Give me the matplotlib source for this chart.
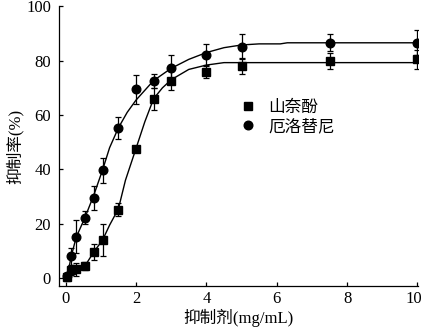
import matplotlib
matplotlib.use("Agg")
import matplotlib.pyplot as plt
import matplotlib.transforms as mtransforms

plt.rcParams['font.family'] = ['Liberation Serif', 'Noto Sans CJK SC']

# measured points
dose = [0.03, 0.15, 0.3, 0.55, 0.8, 1.05, 1.5, 2.0, 2.5, 3.0, 4.0, 5.0, 7.5, 10.0]
kaem_y = [0.3, 3.0, 3.2, 4.3, 9.6, 14.0, 25.2, 47.5, 66.0, 72.6, 76.0, 78.0, 80.0, 80.5]
kaem_err = [1.5, 2.0, 2.5, 1.5, 3.0, 6.0, 2.5, 0.0, 4.0, 3.5, 2.5, 3.0, 3.0, 3.5]
erlo_y = [0.8, 8.0, 15.2, 22.3, 29.4, 39.6, 55.2, 69.5, 72.5, 77.4, 82.0, 85.2, 86.7, 86.7]
erlo_err = [1.0, 3.0, 6.0, 2.5, 4.5, 4.5, 4.0, 5.3, 2.5, 4.7, 4.0, 4.5, 3.0, 4.5]

# fitted curves
kaem_fit_x = [0.05, 0.15, 0.3, 0.55, 0.8, 1.05, 1.25, 1.5, 1.7, 2.0, 2.25, 2.5,
              2.75, 3.0, 3.5, 4.0, 4.5, 10.0]
kaem_fit_y = [0.5, 2.5, 3.3, 4.5, 9.6, 14.0, 19.5, 25.5, 36.0, 47.7, 57.5, 66.0,
              70.0, 73.0, 76.8, 78.4, 79.3, 79.3]
erlo_fit_x = [0.05, 0.15, 0.3, 0.55, 0.8, 1.05, 1.25, 1.5, 1.75, 2.0, 2.5, 3.0,
              3.5, 4.0, 4.5, 5.0, 5.5, 6.1, 6.3, 10.0]
erlo_fit_y = [0.5, 7.5, 15.0, 22.3, 30.5, 39.8, 48.0, 55.3, 61.0, 65.5, 72.7, 77.2,
              80.5, 83.0, 84.8, 85.8, 86.2, 86.2, 86.6, 86.6]

fig = plt.figure(figsize=(4.25, 3.29), dpi=100)
ax = fig.add_axes([0.1395, 0.1316, 0.8445, 0.849])

ax.plot(kaem_fit_x, kaem_fit_y, color='black', lw=1)
ax.plot(erlo_fit_x, erlo_fit_y, color='black', lw=1)

ax.errorbar(dose, kaem_y, yerr=kaem_err, fmt='s', color='black', ms=5.2,
            ecolor='black', elinewidth=0.9, capsize=2.5, capthick=0.9,
            label='山奈酚')
ax.errorbar(dose, erlo_y, yerr=erlo_err, fmt='o', color='black', ms=6.2,
            ecolor='black', elinewidth=0.9, capsize=2.5, capthick=0.9,
            label='厄洛替尼')

ax.set_xlim(-0.18, 10.02)
ax.set_ylim(-2.8, 100)
ax.set_xticks([0, 2, 4, 6, 8, 10])
ax.set_yticks([0, 20, 40, 60, 80, 100])
ax.tick_params(direction='in', labelsize=12, length=3, width=0.9)
ax.tick_params(axis='y', pad=6)
for s in ['top', 'right']:
    ax.spines[s].set_visible(False)
for s in ['left', 'bottom']:
    ax.spines[s].set_linewidth(0.9)

# nudge the last x tick label so it stays inside the canvas
last = ax.get_xticklabels()[-1]
last.set_transform(last.get_transform() +
                   mtransforms.ScaledTranslation(-4 / 100, 0, fig.dpi_scale_trans))

ax.set_xlabel('抑制剂(mg/mL)', fontsize=12, labelpad=2)
ax.set_ylabel('抑制率(%)', fontsize=12, labelpad=2)

handles, labels = ax.get_legend_handles_labels()
ax.legend([h[0] for h in handles], labels, loc='upper left',
          bbox_to_anchor=(0.46, 0.72), frameon=False, fontsize=12,
          handletextpad=0.75, handlelength=1.0, labelspacing=0.2)

fig.savefig('out.png', dpi=100)
